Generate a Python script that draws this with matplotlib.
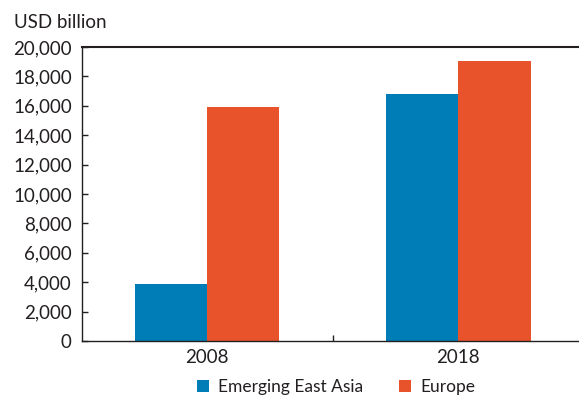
import numpy as np
import matplotlib
matplotlib.use('Agg')
import matplotlib.pyplot as plt
from matplotlib.ticker import FuncFormatter

# data
years = ['2008', '2018']
east_asia = [3880, 16800]
europe = [15950, 19050]

blue = '#007DB7'
orange = '#E9532B'
txt = '#231F20'

plt.rcParams['font.family'] = ['Lato', 'DejaVu Sans']
fs = 13.5

fig = plt.figure(figsize=(5.79, 3.98), dpi=100)
# axes run a little past the right edge (the right spine is cut off in the reference)
ax = fig.add_axes([81.5 / 579, 1 - 341 / 398, (584 - 81.5) / 579, (341 - 47) / 398])

x = np.arange(len(years))
w = 0.288
ax.bar(x - w / 2, east_asia, w, color=blue, label='Emerging East Asia')
ax.bar(x + w / 2, europe, w, color=orange, label='Europe')

ax.set_ylim(0, 20000)
ax.set_xlim(-0.5, 1.5)
ax.set_yticks(np.arange(0, 20001, 2000))
ax.yaxis.set_major_formatter(FuncFormatter(lambda v, p: f'{int(v):,}'))

ax.set_xticks(x)
ax.set_xticklabels(years)
ax.set_xticks([0.5], minor=True)
ax.tick_params(axis='x', which='major', length=0, pad=6, labelsize=fs, colors=txt)
ax.tick_params(axis='x', which='minor', direction='in', length=4, width=1, color=txt)
ax.tick_params(axis='y', direction='in', length=4, width=1, pad=7, labelsize=fs, colors=txt)

for s in ['left', 'top', 'bottom']:
    ax.spines[s].set_color(txt)
    ax.spines[s].set_linewidth(1.0)
ax.spines['right'].set_visible(False)
ax.spines['top'].set_linewidth(1.5)

fig.text(14 / 579, 1 - 23 / 398, 'USD billion', fontsize=fs, color=txt, va='center', ha='left')

fig.legend(loc='center', bbox_to_anchor=(336 / 579, 1 - 387 / 398), ncol=2, frameon=False,
           fontsize=12.5, handlelength=0.7, handleheight=0.7, columnspacing=2.1,
           handletextpad=0.5, labelcolor=txt)

fig.savefig('out.png', dpi=100)
